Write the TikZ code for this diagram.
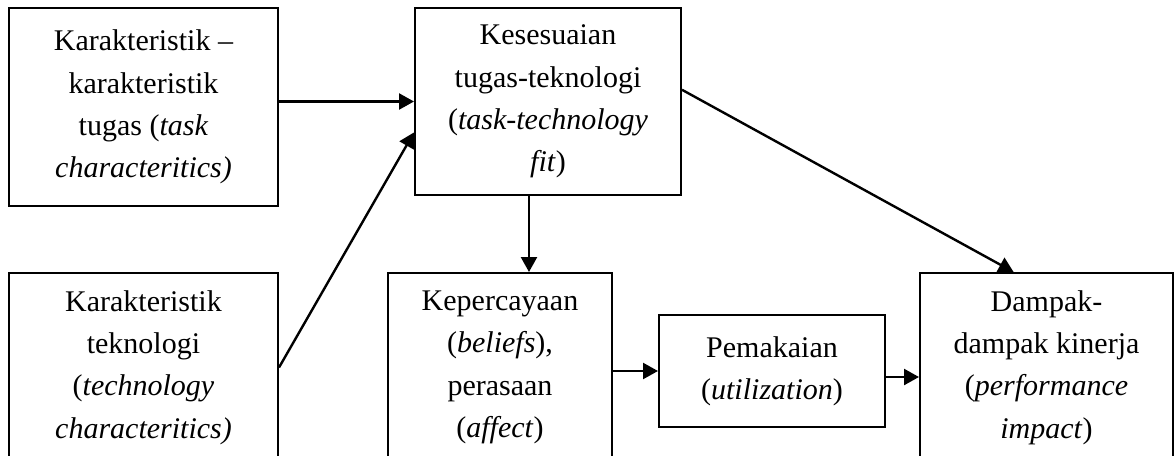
\documentclass[tikz,border=0pt]{standalone}
\usepackage{fontspec}
\setmainfont{Liberation Serif}
\usetikzlibrary{arrows.meta}

\begin{document}
\begin{tikzpicture}[x=0.5pt,y=-0.5pt]
					\tikzstyle{box} = [rectangle,draw=black,line width=1pt,align=center,inner sep=0pt,font=\fontsize{15}{21.2}\selectfont]
					\tikzstyle{arrow} = [-{Triangle[length=7.5pt,width=8pt]},line width=1.2pt]
					\useasboundingbox (0,0) rectangle (1175,456);
					\clip (0,0) rectangle (1175,456);
					\node[box,minimum width=134.5pt,minimum height=99pt] (n1) at (143.5,107) {Karakteristik –\\karakteristik\\tugas (\textit{task}\\\textit{characteritics)}};
					\node[box,minimum width=133pt,minimum height=93.5pt] (n2) at (548,101.5) {Kesesuaian\\tugas-teknologi\\(\textit{task-technology}\\\textit{fit})};
					\node[box,minimum width=134.5pt,minimum height=94.5pt] (n3) at (143.5,367.5) {Karakteristik\\teknologi\\(\textit{technology}\\\textit{characteritics)}};
					\node[box,minimum width=112pt,minimum height=94.5pt] (n4) at (500,367.5) {Kepercayaan\\(\textit{beliefs}),\\perasaan\\(\textit{affect})};
					\node[box,minimum width=113pt,minimum height=56pt] (n5) at (772,371) {Pemakaian\\(\textit{utilization})};
					\node[box,minimum width=126.5pt,minimum height=94.5pt] (n6) at (1046.5,367.5) {Dampak-\\dampak kinerja\\(\textit{performance}\\\textit{impact})};
					\draw[arrow] (n1.east |- n2.west) -- (n2.west);
					\draw[arrow] (n3.east) -- (n2.193);
					\draw[arrow] ([xshift=-9.5pt]n2.south) -- ([xshift=-9.5pt]n2.south |- n4.north);
					\draw[arrow] (n2.5) -- (n6.109);
					\draw[arrow] (n4.east |- n5.west) -- (n5.west);
					\draw[arrow] ([yshift=-3pt]n5.east) -- ([yshift=-3pt]n5.east -| n6.west);
\end{tikzpicture}
\end{document}
